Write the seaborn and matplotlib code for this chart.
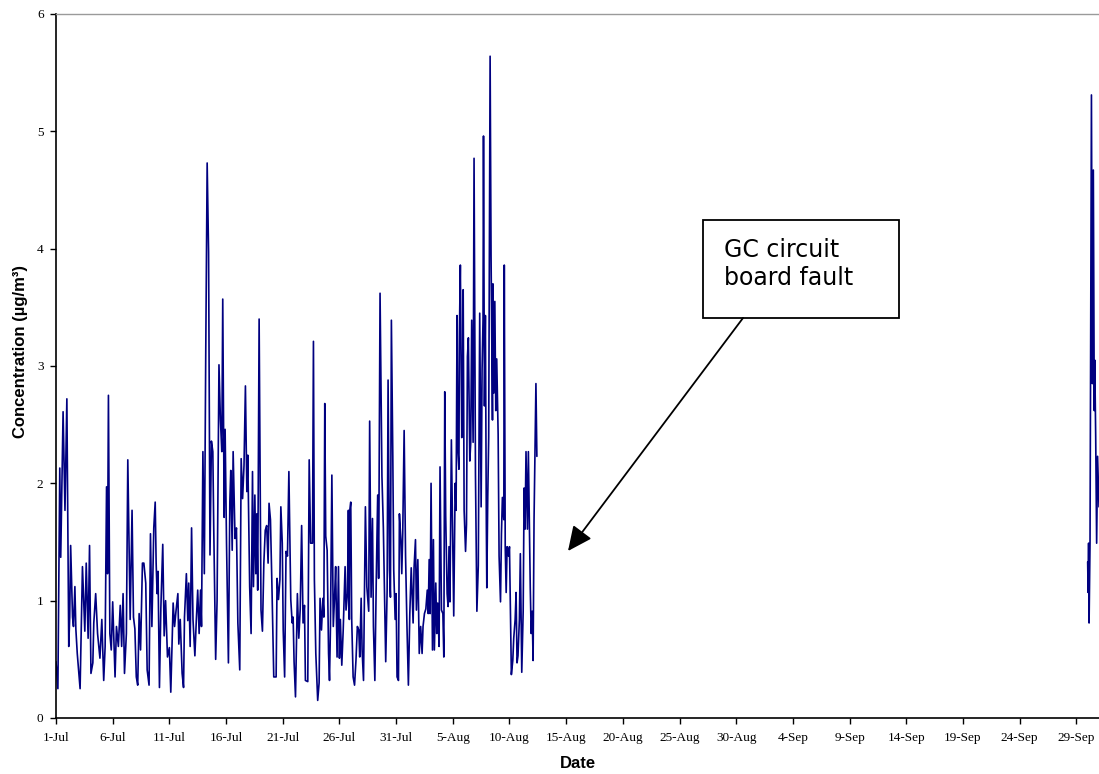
import matplotlib
matplotlib.use("Agg")

import matplotlib.dates as mdates
import matplotlib.pyplot as plt
import pandas as pd
import seaborn as sns
from matplotlib.patches import Rectangle

START = pd.Timestamp("2005-07-01")

# hours since 1-Jul 00:00 and concentration (ug/m3)
hours_jul_aug = [
    # 1-Jul .. 9-Jul
    0, 4, 8, 10, 15, 17, 19, 23, 27, 29,
    31, 35, 37, 40, 42, 45, 51, 56, 61, 64,
    68, 71, 74, 78, 80, 84, 88, 93, 97, 101,
    104, 107, 109, 111, 114, 117, 120, 125, 128, 132,
    136, 139, 142, 145, 149, 152, 157, 161, 164, 167,
    170, 173, 176, 179, 183, 186, 190, 193, 197, 200,
    203,
    # 9-Jul .. 18-Jul
    207, 210, 212, 214, 216, 219, 222, 226, 229, 232,
    236, 240, 243, 248, 251, 254, 258, 260, 263, 267,
    270, 272, 276, 279, 281, 284, 287, 290, 294, 297,
    300, 303, 306, 308, 311, 314, 317, 320, 323, 326,
    329, 332, 334, 338, 341, 345, 348, 351, 353, 356,
    358, 361, 365, 368, 370, 373, 375, 379, 382, 385,
    389, 392, 395, 398, 401, 404, 406, 410, 413,
    # 18-Jul .. 26-Jul
    416, 418, 421, 423, 425, 427, 430, 434, 437, 440,
    443, 446, 449, 451, 454, 457, 461, 466, 468, 471,
    474, 476, 479, 481, 484, 487, 490, 493, 497, 500,
    502, 504, 507, 511, 514, 517, 520, 523, 526, 528,
    533, 536, 539, 543, 545, 547, 550, 554, 557, 559,
    562, 565, 567, 569, 571, 574, 577, 579, 581, 584,
    587, 590, 592, 595, 598, 600, 602, 605, 608, 612,
    614, 617, 619,
    # 26-Jul .. 4-Aug
    621, 622, 624, 626, 629, 632, 635, 638, 641, 643,
    646, 648, 651, 655, 658, 662, 664, 667, 670, 672,
    675, 678, 681, 683, 686, 690, 693, 696, 698, 701,
    703, 706, 708, 710, 713, 715, 718, 720, 722, 725,
    727, 730, 732, 734, 737, 740, 743, 746, 749, 752,
    756, 758, 761, 763, 766, 769, 772, 775, 777, 780,
    783, 786, 788, 790, 792, 794, 797, 799, 801, 804,
    806, 808, 811, 813, 816, 819, 821, 823, 825, 828,
    # 4-Aug .. 12-Aug
    830, 832, 834, 837, 840, 842, 845, 847, 849, 851,
    853, 854, 856, 859, 861, 862, 864, 867, 869, 871,
    873, 876, 878, 880, 883, 885, 888, 891, 894, 897,
    900, 902, 904, 905, 907, 909, 911, 912, 914, 916,
    919, 921, 924, 925, 927, 929, 931, 933, 936, 938,
    941, 943, 945, 948, 949, 951, 953, 955, 958, 960,
    964, 967, 969, 972, 974, 976, 978, 981, 983, 986,
    989, 991, 993, 995, 998, 1000, 1002, 1004, 1006, 1008,
    1010, 1012, 1014, 1016, 1018,
]
conc_jul_aug = [
    0.48, 0.25, 2.13, 1.37, 2.61, 2.17, 1.77, 2.72, 0.61, 0.86,
    1.47, 0.86, 0.78, 1.12, 0.76, 0.55, 0.25, 1.29, 0.74, 1.32,
    0.68, 1.47, 0.38, 0.47, 0.81, 1.06, 0.72, 0.51, 0.84, 0.32,
    0.61, 1.97, 1.23, 2.75, 0.72, 0.58, 0.99, 0.35, 0.78, 0.61,
    0.96, 0.61, 1.06, 0.38, 0.72, 2.20, 0.84, 1.77, 0.86, 0.76,
    0.35, 0.28, 0.89, 0.58, 1.32, 1.32, 1.15, 0.41, 0.28, 1.57,
    0.78,
    1.62, 1.84, 1.32, 1.06, 1.25, 0.26, 0.94, 1.48, 0.70, 1.00,
    0.52, 0.60, 0.22, 0.98, 0.78, 0.91, 1.06, 0.63, 0.84, 0.38,
    0.26, 0.86, 1.23, 0.83, 1.15, 0.61, 1.62, 0.84, 0.53, 0.83,
    1.09, 0.72, 1.09, 0.78, 2.27, 1.23, 3.11, 4.73, 3.97, 1.39,
    2.36, 2.27, 1.60, 0.50, 1.00, 3.01, 2.55, 2.27, 3.57, 1.71,
    2.46, 1.49, 0.47, 1.84, 2.11, 1.43, 2.27, 1.53, 1.62, 0.81,
    0.41, 2.21, 1.87, 2.15, 2.83, 1.93, 2.24, 1.12, 0.72,
    2.10, 1.12, 1.90, 1.23, 1.74, 1.09, 3.40, 0.92, 0.74, 1.32,
    1.60, 1.64, 1.32, 1.83, 1.69, 1.15, 0.35, 0.35, 1.19, 1.01,
    1.18, 1.80, 1.49, 0.75, 0.35, 1.42, 1.38, 2.10, 1.01, 0.81,
    0.86, 0.48, 0.18, 1.06, 0.68, 0.93, 1.64, 0.81, 0.96, 0.32,
    0.31, 2.20, 1.49, 1.49, 3.21, 1.18, 0.55, 0.15, 0.30, 1.02,
    0.75, 1.02, 0.86, 2.68, 1.55, 1.43, 0.55, 0.32, 0.78, 2.07,
    0.78, 1.06, 1.29, 0.52, 1.29, 0.51, 0.84, 0.45, 0.75, 1.29,
    0.92, 1.06, 1.77,
    0.84, 1.77, 1.84, 0.84, 0.35, 0.28, 0.49, 0.78, 0.75, 0.52,
    1.02, 0.58, 0.32, 1.80, 1.12, 0.91, 2.53, 1.03, 1.70, 0.78,
    0.32, 1.18, 1.90, 1.19, 3.62, 2.06, 1.62, 0.96, 0.48, 1.09,
    2.88, 1.26, 1.03, 3.39, 2.23, 1.26, 0.84, 1.06, 0.35, 0.32,
    1.74, 1.52, 1.23, 1.57, 2.45, 1.38, 0.78, 0.28, 0.89, 1.28,
    0.81, 1.28, 1.52, 0.92, 1.35, 0.55, 0.78, 0.55, 0.78, 0.89,
    0.93, 1.09, 0.89, 1.35, 0.89, 2.00, 0.58, 1.52, 0.58, 1.15,
    0.72, 0.98, 0.61, 2.14, 0.92, 0.89, 0.52, 2.78, 1.72, 1.06,
    0.95, 1.46, 0.99, 2.37, 1.46, 0.87, 2.00, 1.77, 3.43, 2.27,
    2.12, 3.28, 3.86, 2.39, 3.01, 3.65, 1.77, 1.42, 1.65, 3.08,
    3.24, 2.19, 2.35, 3.39, 2.35, 4.77, 2.08, 0.91, 1.30, 3.45,
    1.80, 2.97, 3.39, 4.96, 2.66, 3.43, 1.65, 1.11, 1.88, 2.39,
    5.64, 3.94, 2.54, 3.70, 2.77, 3.55, 2.62, 3.06, 2.42, 1.38,
    0.99, 1.57, 1.88, 1.69, 3.86, 1.46, 1.07, 1.46, 1.38, 1.46,
    0.37, 0.49, 0.68, 0.84, 1.07, 0.47, 0.53, 0.84, 1.40, 0.39,
    0.91, 1.96, 1.61, 2.27, 1.61, 2.27, 1.69, 1.11, 0.72, 0.91,
    0.49, 1.69, 2.27, 2.85, 2.23,
]

# after the GC fault: data resume on 29-Sep
hours_sep = [2184, 2185, 2186, 2187, 2189, 2192, 2194, 2196, 2198, 2199,
             2201, 2203, 2205, 2208]
conc_sep = [1.33, 1.07, 1.49, 0.81, 1.49, 5.31, 2.85, 4.67, 2.62, 3.05,
            2.40, 1.49, 2.23, 1.80]

tick_dates = pd.date_range(START, periods=19, freq="5D")
tick_labels = [f"{d.day}-{d:%b}" for d in tick_dates]
y_ticks = [0, 1, 2, 3, 4, 5, 6]

assert len(hours_jul_aug) == len(conc_jul_aug)
assert len(hours_sep) == len(conc_sep)

sns.set_style("ticks")
plt.rcParams["font.family"] = ["Liberation Serif", "DejaVu Serif"]
plt.rcParams["text.color"] = "black"
plt.rcParams["axes.labelcolor"] = "black"

df = pd.concat(
    [
        pd.DataFrame({"hour": hours_jul_aug, "conc": conc_jul_aug, "segment": "jul_aug"}),
        pd.DataFrame({"hour": hours_sep, "conc": conc_sep, "segment": "sep"}),
    ],
    ignore_index=True,
)
df["time"] = START + pd.to_timedelta(df["hour"], unit="h")

fig = plt.figure(figsize=(10.99, 7.74), dpi=100)
ax = fig.add_axes([56 / 1099, 56 / 774, 1043 / 1099, 704 / 774])

sns.lineplot(
    data=df, x="time", y="conc", units="segment", estimator=None, sort=False,
    color="#000080", linewidth=1.2, ax=ax,
)

ax.set_xlim(mdates.date2num(START.to_pydatetime()),
            mdates.date2num((START + pd.Timedelta(days=92)).to_pydatetime()))
ax.set_ylim(0, 6)
ax.set_xticks(mdates.date2num(tick_dates.to_pydatetime()))
ax.set_xticklabels(tick_labels)
ax.set_yticks(y_ticks)
ax.set_yticklabels([str(v) for v in y_ticks])

ax.tick_params(axis="both", direction="out", length=4, width=1, colors="black", labelsize=9.5)
ax.tick_params(axis="x", pad=6)
ax.tick_params(axis="y", pad=5)

for side in ("left", "bottom"):
    ax.spines[side].set_color("black")
    ax.spines[side].set_linewidth(1.2)
ax.spines["top"].set_color("#9a9a9a")
ax.spines["top"].set_linewidth(1.0)
ax.spines["right"].set_visible(False)

ax.set_ylabel("Concentration (µg/m³)", family=["Liberation Sans", "DejaVu Sans"],
              fontweight="bold", fontsize=12, color="black")
ax.set_xlabel("Date", family=["Liberation Sans", "DejaVu Sans"],
              fontweight="bold", fontsize=12, color="black")
ax.yaxis.set_label_coords(-0.027, 0.52)
ax.xaxis.set_label_coords(0.5, -0.054)

# annotation box + arrow
ax.add_patch(Rectangle((0.6203, 0.5682), 0.1879, 0.1392, transform=ax.transAxes,
                       facecolor="white", edgecolor="black", linewidth=1.3, zorder=5))
ax.text(0.6405, 0.6818, "GC circuit\nboard fault", transform=ax.transAxes,
        ha="left", va="top", fontsize=17, family=["DejaVu Sans"], linespacing=1.2,
        color="black", zorder=6)
ax.annotate(
    "", xy=(0.4909, 0.2372), xytext=(0.6587, 0.5682),
    xycoords="axes fraction", textcoords="axes fraction",
    arrowprops=dict(arrowstyle="-|>,head_length=0.75,head_width=0.35", color="black",
                    lw=1.3, shrinkA=0, shrinkB=0, mutation_scale=20),
    zorder=5,
)

fig.savefig("out.png", dpi=100, facecolor="white")
plt.close(fig)
